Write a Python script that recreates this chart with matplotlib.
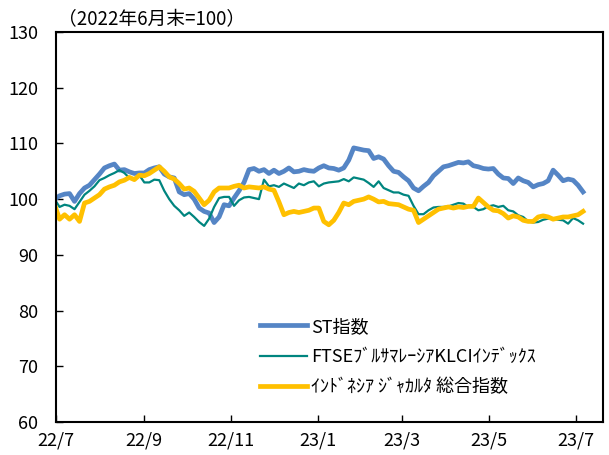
import matplotlib
matplotlib.use("Agg")
import matplotlib.pyplot as plt
import pandas as pd

plt.rcParams['font.family'] = ['Noto Sans CJK JP', 'DejaVu Sans']

# Dates: twice-weekly sampling from end of June 2022
dates = pd.date_range('2022-06-30', periods=107, freq='84h')

st_index = [
    100.0, 100.6, 100.9, 101.0, 99.6, 101.0, 102.0, 102.5, 103.5, 104.5,
    105.6, 106.0, 106.3, 105.2, 105.3, 104.9, 104.6, 104.7, 104.7, 105.3,
    105.6, 105.8, 104.5, 104.0, 103.8, 101.3, 100.8, 101.0, 100.0, 98.4,
    97.8, 97.5, 95.8, 96.8, 99.0, 98.8, 100.2, 101.5, 103.0, 105.3,
    105.5, 105.0, 105.3, 104.6, 105.2, 104.6, 105.0, 105.6, 104.9, 105.0,
    105.3, 105.1, 105.0, 105.6, 106.0, 105.6, 105.5, 105.2, 105.6, 107.0,
    109.2, 109.0, 108.8, 108.7, 107.3, 107.6, 107.2, 106.0, 105.0, 104.8,
    104.0, 103.3, 102.0, 101.5, 102.3, 103.0, 104.2, 105.0, 105.8, 106.0,
    106.3, 106.6, 106.5, 106.7, 106.0, 105.8, 105.5, 105.4, 105.5, 104.5,
    103.8, 103.7, 102.8, 103.8, 103.3, 103.0, 102.2, 102.6, 102.8, 103.3,
    105.2, 104.3, 103.3, 103.6, 103.4, 102.5, 101.3,
]

ftse_klci = [
    100.0, 98.6, 99.0, 98.8, 98.2, 99.5, 100.8, 101.5, 102.3, 103.4,
    103.8, 104.3, 104.7, 105.2, 104.7, 103.8, 103.7, 104.3, 103.0, 103.0,
    103.5, 103.4, 101.5, 100.0, 98.8, 98.0, 97.0, 97.6, 96.8, 95.9,
    95.2, 96.5, 98.6, 100.2, 100.4, 100.4, 98.8, 99.8, 100.3, 100.4,
    100.2, 100.0, 103.5, 102.3, 102.5, 102.2, 102.8, 102.4, 102.0, 102.8,
    102.5, 103.0, 103.2, 102.3, 102.8, 103.0, 103.1, 103.2, 103.6, 103.2,
    103.9, 103.7, 103.5, 102.9, 102.2, 103.2, 102.0, 101.6, 101.2, 101.2,
    100.8, 100.6, 98.8, 97.3, 97.3, 98.0, 98.5, 98.6, 98.6, 98.7,
    99.0, 99.3, 99.2, 98.6, 98.6, 98.0, 98.2, 98.7, 98.9, 98.6,
    98.8, 98.0, 97.8, 97.1, 96.8, 96.0, 95.8, 95.9, 96.3, 96.5,
    96.4, 96.3, 96.2, 95.6, 96.6, 96.2, 95.6,
]

jakarta = [
    99.0, 96.4, 97.2, 96.4, 97.2, 96.0, 99.3, 99.6, 100.2, 100.8,
    101.8, 102.2, 102.5, 103.1, 103.4, 103.9, 103.5, 104.3, 104.2, 104.6,
    105.2, 105.8, 105.0, 104.0, 103.6, 102.8, 101.8, 102.0, 101.4, 100.2,
    99.0, 99.8, 101.3, 102.0, 102.0, 102.0, 102.3, 102.5, 102.0, 102.2,
    102.1, 102.0, 102.2, 101.8, 101.6, 99.5, 97.2, 97.6, 97.8, 97.6,
    97.8, 98.0, 98.4, 98.4, 96.0, 95.4, 96.2, 97.6, 99.3, 99.0,
    99.6, 99.8, 100.0, 100.4, 100.0, 99.5, 99.6, 99.2, 99.1, 99.0,
    98.6, 98.2, 98.0, 95.8, 96.4, 97.0, 97.6, 98.2, 98.4, 98.6,
    98.4, 98.6, 98.5, 98.7, 98.7, 100.2, 99.4, 98.6, 98.0, 97.9,
    97.4, 96.6, 97.0, 96.8, 96.2, 96.0, 96.0, 96.8, 97.0, 96.8,
    96.4, 96.6, 96.8, 96.8, 97.0, 97.2, 97.8,
]

labels = ['ST指数', 'FTSEﾌﾞﾙｻﾏﾚｰｼｱKLCIｲﾝﾃﾞｯｸｽ', 'ｲﾝﾄﾞﾈｼｱ ｼﾞｬｶﾙﾀ 総合指数']
colors = ['#5585C5', '#00857F', '#FFC000']
widths = [3.4, 1.6, 3.4]

xticks = pd.to_datetime(['2022-07-01', '2022-09-01', '2022-11-01', '2023-01-01',
                         '2023-03-01', '2023-05-01', '2023-07-01'])
xticklabels = ['22/7', '22/9', '22/11', '23/1', '23/3', '23/5', '23/7']
yticks = [60, 70, 80, 90, 100, 110, 120, 130]

fig = plt.figure(figsize=(6.09, 4.55), dpi=100)
ax = fig.add_axes([56/609, 1-422/455, (603-56)/609, (422-32)/455])

for vals, lab, c, w in zip([st_index, ftse_klci, jakarta], labels, colors, widths):
    ax.plot(dates, vals, color=c, lw=w, label=lab, solid_joinstyle='round')

ax.set_ylim(60, 130)
ax.set_xlim(pd.Timestamp('2022-07-01'), pd.Timestamp('2023-07-20'))
ax.set_yticks(yticks)
ax.set_xticks(xticks)
ax.set_xticklabels(xticklabels)
ax.tick_params(axis='both', direction='in', length=5, width=1, labelsize=13, color='black')
ax.tick_params(axis='y', pad=13)
ax.tick_params(axis='x', pad=7)
for s in ax.spines.values():
    s.set_linewidth(1.5)
    s.set_color('black')

fig.text(58/609, 1-20/455, '（2022年6月末=100）', fontsize=13.5, va='center', ha='left')

leg = ax.legend(loc='center left', bbox_to_anchor=((253-56)/547, (422-357)/390),
                frameon=False, fontsize=13, handlelength=2.6, handletextpad=0.2,
                labelspacing=0.68, borderaxespad=0)

fig.savefig('out.png', dpi=100)
